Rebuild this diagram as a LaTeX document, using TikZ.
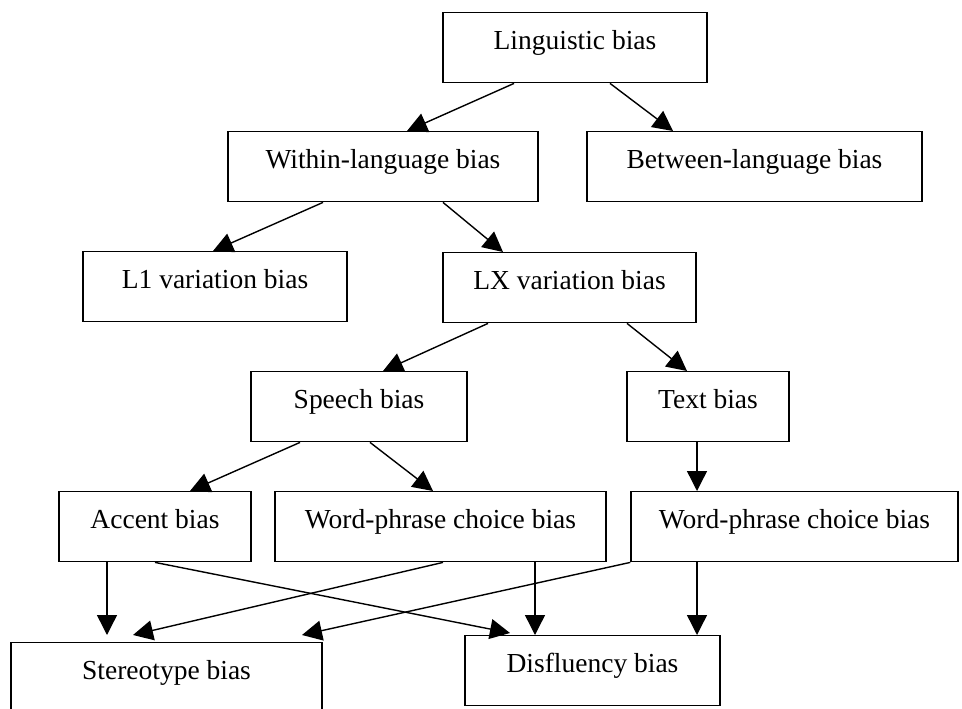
\documentclass[tikz,border=0pt]{standalone}
\usepackage{fontspec}
\setmainfont{Liberation Serif}
\usetikzlibrary{arrows.meta,calc}
\tikzset{
  box/.style={draw, line width=1.4pt, inner xsep=0pt, inner ysep=0pt,
    text height=37pt, text depth=33pt, anchor=north,
    font=\fontsize{27.5}{33}\selectfont},
  conn/.style={line width=1.4pt, -{Triangle[length=20pt,width=20pt]}},
}
\begin{document}
\begin{tikzpicture}[x=1pt,y=-1pt]
\useasboundingbox (0,0) rectangle (962,709);
\clip (0,0) rectangle (962,709);
% boxes
\node[box, minimum width=264pt] (ling)    at (575,12)    {Linguistic bias};
\node[box, minimum width=310pt] (within)  at (383,131)   {Within-language bias};
\node[box, minimum width=335pt] (between) at (754.5,131) {Between-language bias};
\node[box, minimum width=264pt] (lone)    at (215,251)   {L1 variation bias};
\node[box, minimum width=253pt] (lx)      at (569.5,252) {LX variation bias};
\node[box, minimum width=216pt] (speech)  at (359,371)   {Speech bias};
\node[box, minimum width=162pt] (textb)   at (708,371)   {Text bias};
\node[box, minimum width=192pt] (accent)  at (155,491)   {Accent bias};
\node[box, minimum width=331pt] (wpcone)  at (440.5,491) {Word-phrase choice bias};
\node[box, minimum width=327pt] (wpctwo)  at (794.5,491) {Word-phrase choice bias};
\node[box, minimum width=311pt] (stereo)  at (166.5,642) {Stereotype bias};
\node[box, minimum width=255pt] (disfl)   at (592.5,635) {Disfluency bias};
% connectors
\draw[conn] ($(ling.south)+(-61,0)$) -- ($(within.north)+(24,0)$);
\draw[conn] ($(ling.south)+(35,0)$) -- ($(between.north)+(-81.5,0)$);
\draw[conn] ($(within.south)+(-60,0)$) -- ($(lone.north)+(-2,0)$);
\draw[conn] ($(within.south)+(60,0)$) -- ($(lx.north)+(-66.5,0)$);
\draw[conn] ($(lx.south)+(-81.5,0)$) -- ($(speech.north)+(24,0)$);
\draw[conn] ($(lx.south)+(57.5,0)$) -- ($(textb.north)+(-21,0)$);
\draw[conn] ($(textb.south)+(-11,0)$) -- ($(wpctwo.north)+(-97.5,0)$);
\draw[conn] ($(speech.south)+(-59,0)$) -- ($(accent.north)+(35,0)$);
\draw[conn] ($(speech.south)+(11,0)$) -- ($(wpcone.north)+(-7.5,0)$);
\draw[conn] ($(accent.south)+(-48,0)$) -- ($(stereo.north)+(-59.5,-7)$);
\draw[conn] (accent.south) -- ($(disfl.north)+(-82.5,-2)$);
\draw[conn] ($(wpcone.south)+(2.5,0)$) -- ($(stereo.north)+(-33.5,-7)$);
\draw[conn] (wpctwo.south west) -- ($(stereo.north)+(135.5,-7)$);
\draw[conn] ($(wpcone.south)+(94.5,0)$) -- ($(disfl.north)+(-57.5,0)$);
\draw[conn] ($(wpctwo.south)+(-97.5,0)$) -- ($(disfl.north)+(104.5,0)$);
\end{tikzpicture}
\end{document}
